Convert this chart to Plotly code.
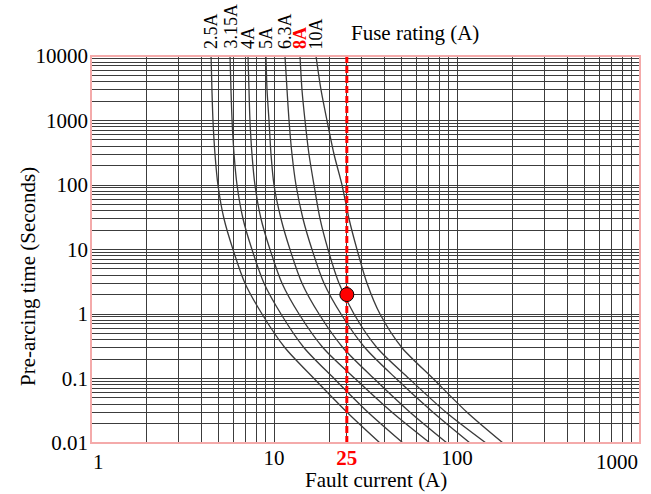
import math
import plotly.graph_objects as go

# ---- data ----
times = [10000, 3000, 1000, 300, 100, 30, 10, 3, 1, 0.3, 0.1, 0.03, 0.01]   # pre-arcing time (s)
fuse_labels = ["2.5A", "3.15A", "4A", "5A", "6.3A", "8A", "10A"]
fuse_currents = {   # fault current (A) at each time above
    "2.5A":  [4.53, 4.58, 4.64, 4.76, 4.94, 5.33, 5.97, 6.94, 8.60, 11.48, 16.54, 25.06, 37.95],
    "3.15A": [5.75, 5.82, 5.90, 6.05, 6.28, 6.77, 7.58, 8.82, 10.92, 14.59, 21.28, 32.63, 50.69],
    "4A":    [7.21, 7.30, 7.39, 7.58, 7.87, 8.49, 9.51, 11.06, 13.70, 18.53, 27.71, 44.14, 71.20],
    "5A":    [9.04, 9.16, 9.39, 9.63, 10.00, 10.92, 12.23, 14.22, 17.62, 23.83, 35.19, 55.36, 88.18],
    "6.3A":  [11.48, 11.78, 12.08, 12.54, 13.19, 14.40, 16.13, 18.76, 23.23, 31.42, 46.42, 73.94, 117.8],
    "8A":    [13.87, 14.22, 14.77, 15.53, 16.54, 17.84, 19.73, 22.66, 27.36, 36.55, 54.66, 87.07, 144.0],
    "10A":   [16.96, 18.06, 19.48, 21.28, 23.53, 25.69, 28.42, 32.23, 37.95, 50.06, 73.94, 113.4, 178.4],
}
fault_current = 25
operating_time = 2.0

x_major = [1, 10, 100, 1000]
x_major_text = ["1", "10", "100", "1000"]
y_major = [0.01, 0.1, 1, 10, 100, 1000, 10000]
y_major_text = ["0.01", "0.1", "1", "10", "100", "1000", "10000"]

FONT = "Liberation Serif, Times New Roman, serif"
GRID = "#3c3c3c"
CURVE = "#3a3a3a"

W, H = 651, 494
L, R, T, B = 91, 11, 56, 51

def px_to_paper_x(px):
    return (px - L) / (W - L - R)

def px_to_paper_y(py):
    return (H - B - py) / (H - T - B)

# ---- ticks / grid ----
def log_grid(lo_exp, hi_exp):
    vals = []
    for e in range(lo_exp, hi_exp):
        for m in range(1, 10):
            vals.append(round(m * 10 ** e, 6))
    vals.append(10 ** hi_exp)
    return vals

# the end labels (1 and 1000) are drawn as annotations anchored inside the plot width
edge_labels = [x_major[0], x_major[-1]]
xvals = log_grid(0, 3)
xtext = [x_major_text[x_major.index(v)] if (v in x_major and v not in edge_labels) else ""
         for v in xvals]
xvals.append(fault_current)
xtext.append("<b><span style='color:red'>%d</span></b>" % fault_current)

yvals = log_grid(-2, 4)
ytext = [y_major_text[y_major.index(v)] if v in y_major else "" for v in yvals]

fig = go.Figure()

for name in fuse_labels:
    fig.add_trace(go.Scatter(
        x=fuse_currents[name], y=times, mode="lines",
        line=dict(color=CURVE, width=1.3, shape="spline", smoothing=0.8),
        showlegend=False, hoverinfo="skip"))

# red dashed line at the fault current
fig.add_trace(go.Scatter(
    x=[fault_current, fault_current], y=[y_major[0], y_major[-1]], mode="lines",
    line=dict(color="#ff0000", width=3, dash="7px,3px"),
    showlegend=False, hoverinfo="skip"))

fig.add_trace(go.Scatter(
    x=[fault_current], y=[operating_time], mode="markers",
    marker=dict(color="#ff0000", size=14, line=dict(color="#000000", width=1)),
    showlegend=False, hoverinfo="skip"))

# end tick labels of the x axis
for v, anchor in zip(edge_labels, ["left", "right"]):
    fig.add_annotation(x=math.log10(v), xref="x", y=px_to_paper_y(462), yref="paper",
                       text=x_major_text[x_major.index(v)], showarrow=False,
                       xanchor=anchor, yanchor="middle",
                       font=dict(family=FONT, size=21, color="#000"))

# fuse rating labels above the curves
for name in fuse_labels:
    red = name == "8A"
    fig.add_annotation(
        x=math.log10(fuse_currents[name][0]), xref="x", y=1.0, yref="paper", yshift=5,
        text=("<b>%s</b>" % name) if red else name, textangle=-90,
        xanchor="center", yanchor="bottom", showarrow=False,
        font=dict(family=FONT, size=18, color="#ff0000" if red else "#000000"))

fig.add_annotation(x=px_to_paper_x(415), xref="paper", y=px_to_paper_y(33), yref="paper",
                   xanchor="center", yanchor="middle", showarrow=False,
                   text="Fuse rating (A)", font=dict(family=FONT, size=21, color="#000"))
fig.add_annotation(x=px_to_paper_x(376), xref="paper", y=px_to_paper_y(480), yref="paper",
                   text="Fault current (A)", showarrow=False, xanchor="center", yanchor="middle",
                   font=dict(family=FONT, size=21, color="#000"))
fig.add_annotation(x=px_to_paper_x(28), xref="paper", y=px_to_paper_y(277), yref="paper",
                   text="Pre-arcing time (Seconds)", showarrow=False, textangle=-90,
                   xanchor="center", yanchor="middle",
                   font=dict(family=FONT, size=21, color="#000"))

# plot border (pink)
fig.add_shape(type="rect", xref="paper", yref="paper", x0=0, y0=0, x1=1, y1=1,
              line=dict(color="#f4aaaa", width=2), layer="above")

fig.update_xaxes(type="log", range=[0, 3], tickmode="array", tickvals=xvals, ticktext=xtext,
                 showgrid=True, gridcolor=GRID, gridwidth=1, zeroline=False, showline=False,
                 ticks="", tickfont=dict(family=FONT, size=21, color="#000"))
fig.update_yaxes(type="log", range=[-2, 4], tickmode="array", tickvals=yvals, ticktext=ytext,
                 showgrid=True, gridcolor=GRID, gridwidth=1, zeroline=False, showline=False,
                 ticks="", ticklabelstandoff=2, ticklabeloverflow="allow",
                 tickfont=dict(family=FONT, size=21, color="#000"))

fig.update_layout(width=W, height=H, margin=dict(l=L, r=R, t=T, b=B, autoexpand=False),
                  paper_bgcolor="white", plot_bgcolor="white")

fig.write_html("out.html")
